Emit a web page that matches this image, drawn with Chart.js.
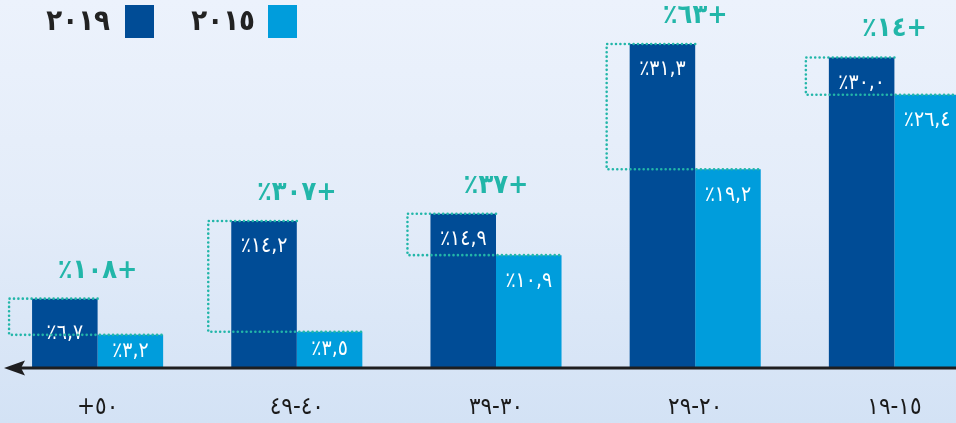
<!DOCTYPE html>
<html>
<head>
<meta charset="utf-8">
<script src="https://cdn.jsdelivr.net/npm/chart.js@4.4.1/dist/chart.umd.min.js"></script>
<style>
  html, body { margin: 0; padding: 0; width: 956px; height: 423px; overflow: hidden; }
  body { background: linear-gradient(to bottom, #ecf2fc 0%, #e3ecf9 50%, #d3e2f5 100%); position: relative; }
  #wrap { position: absolute; left: -2px; top: 0; width: 996px; height: 423px; }
</style>
</head>
<body>
<div id="wrap"><canvas id="mycanvas"></canvas></div>
<script>
// age groups, shown left to right
var categories = ['+٥٠', '٤٠-٤٩', '٣٠-٣٩', '٢٠-٢٩', '١٥-١٩'];
var years = ['٢٠١٩', '٢٠١٥'];
var values2019 = [6.7, 14.2, 14.9, 31.3, 30.0];
var values2015 = [3.2, 3.5, 10.9, 19.2, 26.4];
var growth = ['٪١٠٨+', '٪٣٠٧+', '٪٣٧+', '٪٦٣+', '٪١٤+'];

var darkBlue = '#004c96';
var lightBlue = '#009ddc';
var teal = '#22b6a9';
var arabicFont = '"DejaVu Sans Condensed", "DejaVu Sans", sans-serif';

function toArabic(str) {
  var digits = '٠١٢٣٤٥٦٧٨٩';
  return str.replace(/[0-9]/g, function(d) { return digits[+d]; });
}
function pctLabel(v) {
  return '٪' + toArabic(v.toFixed(1)).replace('.', ',');
}

var extras = {
  id: 'extras',
  afterDatasetsDraw: function(chart) {
    var ctx = chart.ctx;
    var dark = chart.getDatasetMeta(0).data;
    var light = chart.getDatasetMeta(1).data;
    var bottom = chart.chartArea.bottom;

    ctx.save();
    // value labels inside bars
    ctx.fillStyle = '#ffffff';
    ctx.font = '21px ' + arabicFont;
    ctx.textAlign = 'center';
    ctx.textBaseline = 'middle';
    [[dark, values2019], [light, values2015]].forEach(function(pair) {
      pair[0].forEach(function(bar, i) {
        var h = bottom - bar.y;
        var y = h > 80 ? bar.y + 26 : bar.y + h / 2;
        ctx.fillText(pctLabel(pair[1][i]), bar.x, y);
      });
    });

    // dotted comparison boxes
    ctx.strokeStyle = teal;
    ctx.lineWidth = 2.6;
    ctx.lineCap = 'round';
    ctx.setLineDash([0, 4.4]);
    dark.forEach(function(bar, i) {
      var lb = light[i];
      var left = bar.x - bar.width / 2 - 23;
      var right = bar.x + bar.width / 2;
      var lRight = lb.x + lb.width / 2;
      ctx.beginPath();
      ctx.moveTo(right, bar.y);
      ctx.lineTo(left, bar.y);
      ctx.lineTo(left, lb.y);
      ctx.lineTo(lRight, lb.y);
      ctx.stroke();
    });
    ctx.setLineDash([]);

    // growth labels
    ctx.fillStyle = teal;
    ctx.font = 'bold 27px ' + arabicFont;
    dark.forEach(function(bar, i) {
      ctx.fillText(growth[i], bar.x + bar.width / 2, bar.y - 28);
    });

    // axis line with arrow
    ctx.fillStyle = '#1e1e20';
    ctx.fillRect(20, bottom - 1.5, chart.width, 3);
    ctx.beginPath();
    ctx.moveTo(6, bottom);
    ctx.lineTo(27, bottom - 7.5);
    ctx.lineTo(23, bottom);
    ctx.lineTo(27, bottom + 7.5);
    ctx.closePath();
    ctx.fill();

    // legend
    ctx.font = 'bold 29px ' + arabicFont;
    ctx.textAlign = 'right';
    ctx.fillStyle = '#222222';
    ctx.fillText(years[0], 112, 22);
    ctx.fillText(years[1], 257, 22);
    ctx.fillStyle = darkBlue;
    ctx.fillRect(127, 5, 29, 33);
    ctx.fillStyle = lightBlue;
    ctx.fillRect(270, 5, 29, 33);
    ctx.restore();
  }
};

var ctx = document.getElementById('mycanvas');
var chart = new Chart(ctx, {
  type: 'bar',
  data: {
    labels: categories,
    datasets: [
      { label: years[0], data: values2019, backgroundColor: darkBlue, borderWidth: 0 },
      { label: years[1], data: values2015, backgroundColor: lightBlue, borderWidth: 0 }
    ]
  },
  options: {
    responsive: true,
    maintainAspectRatio: false,
    animation: false,
    devicePixelRatio: 1,
    layout: { padding: 0 },
    datasets: { bar: { categoryPercentage: 0.658, barPercentage: 1.0 } },
    plugins: { legend: { display: false }, tooltip: { enabled: false } },
    scales: {
      x: {
        grid: { display: false, drawTicks: false },
        border: { display: false },
        ticks: { color: '#1a1a1a', padding: 25, font: { size: 24, family: arabicFont } },
        afterFit: function(s) { s.height = 55; }
      },
      y: { display: false, min: 0, max: 35.55 }
    }
  },
  plugins: [extras]
});
</script>
</body>
</html>
